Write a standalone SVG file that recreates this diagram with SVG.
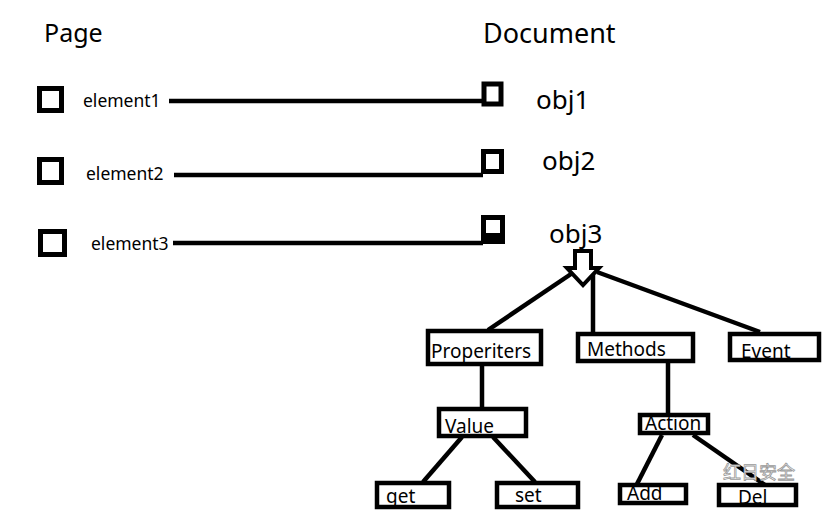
<svg xmlns="http://www.w3.org/2000/svg" width="830" height="514" viewBox="0 0 830 514">
<style>
text{font-family:"Noto Sans","Open Sans","Liberation Sans",sans-serif;fill:#000}
.t{font-size:27px}
.el{font-size:17.5px}
.obj{font-size:26px}
.lb{font-size:19px}
.sq{fill:#fff;stroke:#000;stroke-width:5}
.bx{fill:#fff;stroke:#000;stroke-width:4.5}
.ln{stroke:#000;stroke-width:4.5;fill:none;stroke-linecap:butt}
</style>
<rect width="830" height="514" fill="#fff"/>
<text class="t" x="44" y="42" style="font-size:25px">Page</text>
<text class="t" x="483" y="43">Document</text>

<g id="connectors">
<line class="ln" x1="169" y1="101" x2="483" y2="101"/>
<line class="ln" x1="174" y1="175" x2="483" y2="175"/>
<line class="ln" x1="173" y1="243" x2="483" y2="243"/>
<line class="ln" x1="574" y1="272" x2="488" y2="330"/>
<line class="ln" x1="593" y1="272" x2="593" y2="332"/>
<line class="ln" x1="597" y1="272" x2="760" y2="332"/>
<line class="ln" x1="482" y1="366" x2="482" y2="408"/>
<line class="ln" x1="668" y1="363" x2="668" y2="414"/>
<line class="ln" x1="462" y1="437" x2="423" y2="482"/>
<line class="ln" x1="493" y1="437" x2="535" y2="482"/>
<line class="ln" x1="662" y1="435" x2="637" y2="484"/>
<line class="ln" x1="693" y1="435" x2="765" y2="485"/>
<polygon points="575,251 591,251 591,268 599,268 583,285 567,268 575,268" fill="#fff" stroke="#000" stroke-width="4"/>
</g>

<g id="element1"><rect class="sq" x="39.5" y="88.5" width="22" height="22"/><text class="el" x="83" y="107">element1</text></g>
<g id="element2"><rect class="sq" x="39.5" y="159.5" width="22" height="23"/><text class="el" x="86" y="180">element2</text></g>
<g id="element3"><rect class="sq" x="40.5" y="231.5" width="24" height="23"/><text class="el" x="91" y="250">element3</text></g>

<g id="obj1"><rect class="sq" x="484" y="84" width="17" height="20"/><text class="obj" x="536" y="109">obj1</text></g>
<g id="obj2"><rect class="sq" x="483.5" y="151.5" width="18" height="20"/><text class="obj" x="542" y="170">obj2</text></g>
<g id="obj3"><rect class="sq" x="483.5" y="217.5" width="19" height="24"/><rect x="483" y="233" width="20" height="10" fill="#000"/><text class="obj" x="549" y="243">obj3</text></g>

<g id="properiters"><rect class="bx" x="428" y="331" width="113" height="33"/><text class="lb" x="431" y="358">Properiters</text></g>
<g id="methods"><rect class="bx" x="578" y="334" width="115" height="27"/><text class="lb" x="587" y="356">Methods</text></g>
<g id="event"><rect class="bx" x="730" y="334" width="89" height="26"/><text class="lb" x="741" y="358">Event</text></g>
<g id="value"><rect class="bx" x="439" y="409" width="87" height="27"/><text class="lb" x="445" y="433">Value</text></g>
<g id="action"><rect class="bx" x="640" y="415" width="68" height="18"/><text class="lb" x="645" y="430">Action</text></g>
<g id="get"><rect class="bx" x="377" y="483" width="72" height="24"/><text class="lb" x="386" y="503">get</text></g>
<g id="set"><rect class="bx" x="497" y="483" width="81" height="24"/><text class="lb" x="515" y="502">set</text></g>
<g id="add"><rect class="bx" x="620" y="485" width="66" height="18"/><text class="lb" x="627" y="500">Add</text></g>
<g id="del"><rect class="bx" x="719" y="485" width="77" height="20"/><text class="lb" x="738" y="504">Del</text></g>

<text x="723" y="479" style="font-family:'Noto Sans CJK SC',sans-serif;font-size:18px;fill:#fff;stroke:#999;stroke-width:0.8">红日安全</text>
</svg>
